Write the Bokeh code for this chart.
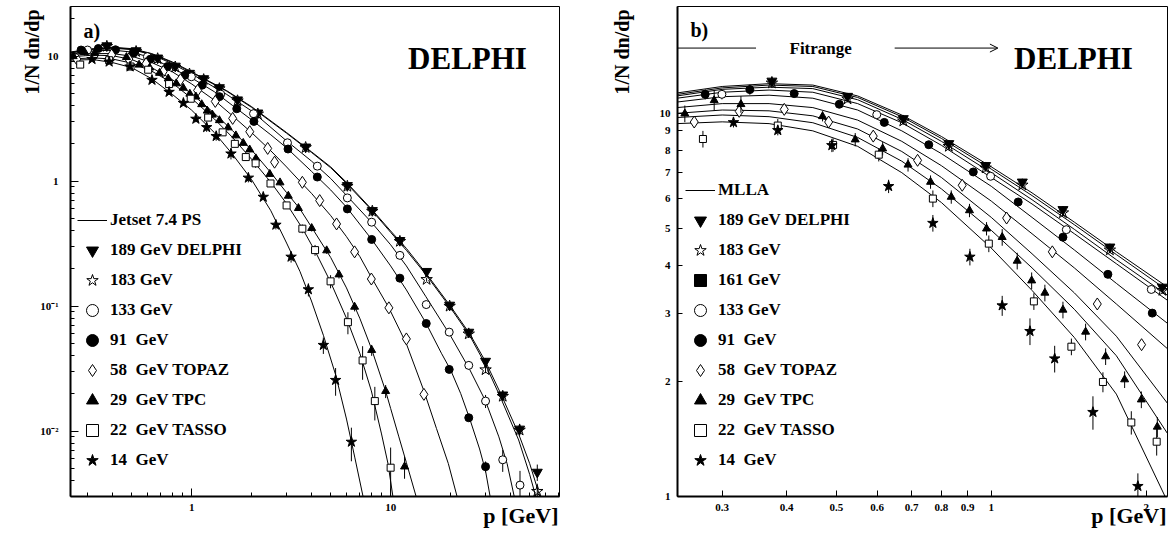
import numpy as np
from bokeh.plotting import figure
from bokeh.layouts import row
from bokeh.models import (FixedTicker, CustomJSTickFormatter, Label, Legend, LegendItem,
                          Arrow, OpenHead, Range1d, Title)
from bokeh.embed import file_html
from bokeh.resources import INLINE

FONT = "Liberation Serif"

# ---------------- measured data: p [GeV], 1/N dn/dp, relative error ----------------
p189 = [0.3747, 0.5256, 0.6745, 0.827, 0.975, 1.149, 1.378, 1.70, 2.15, 3.74, 6.06, 8.09, 11.13, 15.17, 19.8, 24.7, 30.0, 36.6, 44.5, 54.6]
y189 = [12.14, 11.08, 9.69, 8.34, 7.31, 6.62, 5.61, 4.48, 3.52, 1.88, 0.924, 0.583, 0.336, 0.19, 0.102, 0.062, 0.0363, 0.0195, 0.0104, 0.0047]
e189 = [0.03, 0.02, 0.02, 0.02, 0.02, 0.02, 0.02, 0.02, 0.02, 0.02, 0.02, 0.02, 0.03, 0.03, 0.04, 0.05, 0.06, 0.08, 0.1, 0.15]

p183 = [0.3747, 0.5256, 0.6745, 0.827, 0.975, 1.149, 1.378, 1.70, 2.15, 3.74, 6.06, 8.09, 11.13, 15.17, 19.8, 24.7, 30.0, 36.6, 44.5, 54.6]
y183 = [12.0, 10.9, 9.55, 8.2, 7.2, 6.5, 5.5, 4.4, 3.45, 1.86, 0.91, 0.575, 0.33, 0.1636, 0.1, 0.06, 0.031, 0.019, 0.0102, 0.0033]
e183 = [0.03, 0.02, 0.02, 0.02, 0.02, 0.02, 0.02, 0.02, 0.02, 0.02, 0.02, 0.02, 0.03, 0.03, 0.04, 0.05, 0.06, 0.08, 0.1, 0.15]

p133 = [0.2996, 0.599, 0.997, 1.399, 2.046, 3.03, 4.28, 6.06, 8.03, 11.13, 15.1, 19.7, 24.7, 30.0, 36.6, 44.7]
y133 = [11.21, 9.92, 6.85, 4.97, 3.47, 2.03, 1.32, 0.735, 0.47, 0.255, 0.103, 0.062, 0.0336, 0.0174, 0.0059, 0.0037]
e133 = [0.03, 0.02, 0.02, 0.02, 0.02, 0.02, 0.02, 0.03, 0.03, 0.04, 0.05, 0.06, 0.08, 0.12, 0.2, 0.3]

p91 = [0.278, 0.3395, 0.414, 0.5066, 0.6195, 0.756, 0.9226, 1.128, 1.378, 1.685, 2.055, 3.05, 4.28, 6.06, 8.03, 11.13, 15.1, 19.7, 24.7, 30.0]
y91 = [11.21, 11.53, 11.26, 10.56, 9.47, 8.28, 7.03, 5.87, 4.75, 3.80, 3.01, 1.81, 1.08, 0.6, 0.342, 0.1675, 0.0727, 0.0312, 0.0128, 0.0052]
e91 = [0.03, 0.03, 0.02, 0.02, 0.02, 0.02, 0.02, 0.02, 0.02, 0.02, 0.02, 0.02, 0.02, 0.02, 0.03, 0.03, 0.04, 0.05, 0.06, 0.1]

p58 = [0.2647, 0.3237, 0.396, 0.483, 0.5897, 0.7191, 0.878, 1.071, 1.314, 1.607, 1.959, 2.41, 2.61, 3.6, 4.4, 5.35, 6.59, 8.0, 9.8, 12.0, 14.7]
y58 = [9.49, 10.12, 10.24, 9.49, 8.72, 7.54, 6.49, 5.33, 4.35, 3.18, 2.49, 1.83, 1.42, 0.98, 0.70, 0.455, 0.272, 0.165, 0.097, 0.0547, 0.0197]
e58 = [0.03, 0.03, 0.03, 0.03, 0.03, 0.03, 0.03, 0.03, 0.03, 0.03, 0.03, 0.03, 0.03, 0.03, 0.03, 0.04, 0.04, 0.05, 0.05, 0.06, 0.08]

p29 = [0.2538, 0.2894, 0.3262, 0.47, 0.544, 0.615, 0.689, 0.762, 0.836, 0.907,
       0.979, 1.05, 1.123, 1.198, 1.271, 1.378, 1.525, 1.668, 1.816, 1.957,
       2.102, 2.47, 2.78, 3.06, 3.44, 4.01, 4.77, 5.5, 6.59, 8.03, 9.44, 11.75]
y29 = [9.98, 10.81, 10.56, 9.82, 8.54, 8.09, 7.34, 6.62, 6.05, 5.58,
       5.0, 4.75, 4.12, 3.66, 3.40, 3.07, 2.69, 2.32, 2.02, 1.79,
       1.52, 1.14, 0.976, 0.763, 0.608, 0.421, 0.279, 0.179, 0.0987, 0.0445, 0.0209, 0.0052]
e29 = [0.05, 0.06, 0.05, 0.03, 0.04, 0.04, 0.04, 0.04, 0.04, 0.04,
       0.04, 0.05, 0.05, 0.05, 0.05, 0.05, 0.05, 0.05, 0.05, 0.05,
       0.06, 0.05, 0.05, 0.05, 0.05, 0.06, 0.06, 0.07, 0.08, 0.1, 0.12, 0.2]

p22 = [0.2752, 0.3847, 0.4927, 0.6044, 0.77, 0.989, 1.21, 1.431, 1.648, 1.871,
       2.096, 2.49, 3.0, 3.6, 4.17, 4.99, 6.1, 7.23, 8.33, 10.0]
y22 = [8.57, 9.29, 8.27, 7.80, 5.99, 4.57, 3.23, 2.46, 1.99, 1.56,
       1.39, 0.959, 0.64, 0.417, 0.281, 0.158, 0.0745, 0.0368, 0.0174, 0.0051]
e22 = [0.05, 0.04, 0.04, 0.04, 0.05, 0.05, 0.05, 0.05, 0.06, 0.07,
       0.08, 0.06, 0.06, 0.08, 0.1, 0.12, 0.2, 0.3, 0.3, 0.45]

p14 = [0.3155, 0.3847, 0.49, 0.6316, 0.77, 0.9087, 1.05, 1.189, 1.328, 1.576,
       1.927, 2.29, 2.65, 3.16, 3.86, 4.59, 5.29, 6.35]
y14 = [9.47, 9.03, 8.25, 6.45, 5.17, 4.22, 3.15, 2.70, 2.29, 1.66,
       1.064, 0.748, 0.447, 0.248, 0.136, 0.0488, 0.0256, 0.0082]
e14 = [0.03, 0.03, 0.04, 0.04, 0.05, 0.05, 0.06, 0.08, 0.08, 0.1,
       0.08, 0.06, 0.08, 0.1, 0.12, 0.15, 0.25, 0.3]

# 161 GeV: legend entry only, no points visible in the figure
p161 = [float("nan")]
y161 = [float("nan")]
e161 = [0.0]

# ---------------- Jetset 7.4 PS curves (panel a) ----------------
js_p189 = [0.245, 0.32, 0.4, 0.5, 0.63, 0.8, 1.0, 1.5, 2.0, 3.0, 4.0, 5.0, 6.0, 8.0, 10, 12, 15, 20, 25, 30, 36, 44, 50, 57]
js_y189 = [10.8, 11.5, 11.8, 11.5, 10.5, 9.0, 7.5, 5.3, 3.95, 2.45, 1.72, 1.3, 0.98, 0.6, 0.4, 0.29, 0.185, 0.1, 0.06, 0.036, 0.0195, 0.0095, 0.0055, 0.0028]
js_p183 = [0.245, 0.32, 0.4, 0.5, 0.63, 0.8, 1.0, 1.5, 2.0, 3.0, 4.0, 5.0, 6.0, 8.0, 10, 12, 15, 20, 25, 30, 36, 44, 50, 55]
js_y183 = [10.7, 11.4, 11.7, 11.4, 10.4, 8.9, 7.4, 5.25, 3.9, 2.42, 1.7, 1.28, 0.96, 0.59, 0.39, 0.28, 0.18, 0.097, 0.058, 0.034, 0.018, 0.0085, 0.0045, 0.0026]
js_p133 = [0.245, 0.32, 0.4, 0.5, 0.63, 0.8, 1.0, 1.5, 2.0, 3.0, 4.0, 5.0, 6.0, 8.0, 10, 12, 15, 20, 25, 30, 35, 38.5, 42]
js_y133 = [10.6, 11.3, 11.6, 11.3, 10.3, 8.7, 7.2, 4.95, 3.65, 2.1, 1.45, 1.05, 0.77, 0.47, 0.31, 0.21, 0.12, 0.058, 0.031, 0.0174, 0.009, 0.0055, 0.0029]
js_p91 = [0.245, 0.32, 0.4, 0.5, 0.63, 0.8, 1.0, 1.3, 1.6, 2.0, 2.5, 3.0, 4.0, 5.0, 6.0, 8.0, 10, 12, 15, 18, 20, 22.5, 25, 28, 30, 32]
js_y91 = [10.4, 11.0, 11.2, 10.8, 9.7, 8.0, 6.7, 5.2, 4.05, 3.1, 2.35, 1.85, 1.2, 0.85, 0.62, 0.345, 0.21, 0.135, 0.074, 0.042, 0.031, 0.02, 0.0125, 0.0072, 0.0048, 0.0027]
js_p58 = [0.245, 0.32, 0.4, 0.5, 0.63, 0.8, 1.0, 1.3, 1.6, 2.0, 2.5, 3.0, 3.5, 4.0, 5.0, 6.0, 7.0, 8.0, 9.8, 12.0, 14.7, 17.0, 19.5, 21.7]
js_y58 = [10.1, 10.5, 10.5, 10.0, 8.9, 7.5, 6.0, 4.45, 3.35, 2.45, 1.75, 1.3, 1.0, 0.8, 0.53, 0.36, 0.25, 0.17, 0.097, 0.05, 0.021, 0.0105, 0.0055, 0.0029]
js_p29 = [0.245, 0.32, 0.4, 0.5, 0.63, 0.8, 1.0, 1.3, 1.6, 2.0, 2.5, 3.0, 3.5, 4.0, 5.0, 6.0, 7.0, 8.0, 9.44, 10.0, 11.0, 12.0, 13.6]
js_y29 = [9.9, 10.2, 10.1, 9.4, 8.1, 6.5, 5.0, 3.5, 2.55, 1.78, 1.17, 0.81, 0.6, 0.43, 0.245, 0.14, 0.08, 0.046, 0.0209, 0.0152, 0.009, 0.0056, 0.0028]
js_p22 = [0.245, 0.32, 0.4, 0.5, 0.63, 0.8, 1.0, 1.3, 1.6, 2.0, 2.5, 3.0, 3.6, 4.2, 5.0, 6.0, 7.0, 8.0, 9.0, 9.7, 10.3]
js_y22 = [9.5, 9.7, 9.5, 8.8, 7.6, 6.1, 4.6, 3.15, 2.25, 1.5, 0.98, 0.66, 0.42, 0.27, 0.155, 0.08, 0.042, 0.021, 0.0095, 0.0055, 0.0029]
js_p14 = [0.245, 0.32, 0.4, 0.5, 0.63, 0.8, 1.0, 1.3, 1.6, 2.0, 2.5, 3.0, 3.5, 4.0, 4.6, 5.3, 6.0, 6.6, 7.3]
js_y14 = [9.3, 9.4, 8.9, 8.1, 6.6, 4.95, 3.7, 2.45, 1.65, 1.03, 0.58, 0.32, 0.19, 0.11, 0.058, 0.028, 0.0125, 0.0062, 0.0029]

# ---------------- MLLA curves (panel b) ----------------
mlla_p = [0.245, 0.3, 0.37, 0.45, 0.55, 0.67, 0.8, 1.0, 1.2, 1.45, 1.75, 2.2]
mlla189 = [11.3, 11.75, 11.95, 11.85, 11.1, 9.9, 8.7, 7.25, 6.2, 5.2, 4.35, 3.52]
mlla183 = [11.2, 11.65, 11.85, 11.75, 11.0, 9.8, 8.6, 7.15, 6.1, 5.12, 4.28, 3.45]
mlla161 = [11.1, 11.55, 11.7, 11.6, 10.85, 9.65, 8.45, 7.0, 5.95, 4.98, 4.15, 3.35]
mlla133 = [10.95, 11.35, 11.5, 11.35, 10.6, 9.45, 8.25, 6.8, 5.8, 4.85, 4.05, 3.25]
mlla91 = [10.7, 11.05, 11.15, 10.95, 10.2, 9.0, 7.85, 6.45, 5.35, 4.4, 3.6, 2.83]
mlla58 = [10.35, 10.6, 10.6, 10.35, 9.6, 8.45, 7.3, 5.9, 4.85, 3.95, 3.18, 2.43]
mlla29 = [10.0, 10.2, 10.15, 9.85, 9.1, 7.95, 6.8, 5.35, 4.3, 3.4, 2.62, 1.75]
mlla22 = [9.75, 9.9, 9.8, 9.45, 8.65, 7.5, 6.35, 4.95, 3.95, 3.08, 2.33, 1.46]
mlla14 = [9.4, 9.5, 9.4, 9.0, 8.2, 7.0, 5.85, 4.45, 3.45, 2.6, 1.85, 0.97]

# ---------------- axes: ticks and labels ----------------
a_xticks = [1, 10]
a_xlabels = ["1", "10"]
a_xminor = [0.3, 0.4, 0.5, 0.6, 0.7, 0.8, 0.9, 2, 3, 4, 5, 6, 7, 8, 9, 20, 30, 40, 50, 60, 70]
a_yticks = [0.01, 0.1, 1, 10]
a_ylabels = ["10\u207b\u00b2", "10\u207b\u00b9", "1", "10"]
a_yminor = [0.004, 0.005, 0.006, 0.007, 0.008, 0.009, 0.02, 0.03, 0.04, 0.05, 0.06, 0.07, 0.08, 0.09,
            0.2, 0.3, 0.4, 0.5, 0.6, 0.7, 0.8, 0.9, 2, 3, 4, 5, 6, 7, 8, 9, 20]
b_xticks = [0.3, 0.4, 0.5, 0.6, 0.7, 0.8, 0.9, 1, 2]
b_xlabels = ["0.3", "0.4", "0.5", "0.6", "0.7", "0.8", "0.9", "1", "2"]
b_yticks = [1, 2, 3, 4, 5, 6, 7, 8, 9, 10]
b_ylabels = ["1", "2", "3", "4", "5", "6", "7", "8", "9", "10"]
x_title = "p [GeV]"
y_title = "1/N dn/dp"

# fit-range indicator (panel b)
fit_line_x = [0.245, 0.349]
fit_arrow_x = [0.649, 1.03]
fit_y = 14.8

series = [
    ("189", p189, y189, e189, "inverted_triangle", "black", 1.0, 10),
    ("183", p183, y183, e183, "star", "white", 0.0, 12),
    ("161", p161, y161, e161, "square", "black", 1.0, 8),
    ("133", p133, y133, e133, "circle", "white", 1.0, 8),
    ("91", p91, y91, e91, "circle", "black", 1.0, 8),
    ("58", p58, y58, e58, "diamond", "white", 1.0, 12),
    ("29", p29, y29, e29, "triangle", "black", 1.0, 8),
    ("22", p22, y22, e22, "square", "white", 1.0, 7),
    ("14", p14, y14, e14, "star", "black", 1.0, 11),
]

def style_axis(ax, ticks, labels, minor, standoff=7):
    ax.ticker = FixedTicker(ticks=ticks, minor_ticks=minor)
    ax.formatter = CustomJSTickFormatter(args=dict(vals=ticks, labs=labels),
        code="const i = vals.indexOf(tick); return i >= 0 ? labs[i] : '';")
    ax.axis_line_width = 2
    ax.axis_line_color = "black"
    ax.major_tick_in = 8
    ax.major_tick_out = 0
    ax.minor_tick_in = 4
    ax.minor_tick_out = 0
    ax.major_tick_line_color = "black"
    ax.minor_tick_line_color = "black"
    ax.major_label_text_font = FONT
    ax.major_label_text_font_style = "bold"
    ax.major_label_text_font_size = "11px"
    ax.major_label_text_color = "black"
    ax.major_label_standoff = standoff

def add_axis_titles(p, y_standoff):
    p.add_layout(Title(text=x_title, align="right", vertical_align="bottom", offset=1, standoff=-26,
                       text_font=FONT, text_font_style="bold", text_font_size="22px",
                       text_color="black"), "below")
    p.add_layout(Title(text=y_title, align="right", vertical_align="bottom", offset=3, standoff=y_standoff,
                       text_font=FONT, text_font_style="bold", text_font_size="20px",
                       text_color="black"), "left")

def make_fig(width, bl, br, xr, yr):
    p = figure(width=width, height=533, x_axis_type="log", y_axis_type="log",
               x_range=Range1d(*xr), y_range=Range1d(*yr),
               output_backend="svg", toolbar_location=None,
               min_border_left=bl, min_border_right=br, min_border_top=6, min_border_bottom=37)
    p.xgrid.visible = False
    p.ygrid.visible = False
    p.outline_line_color = "black"
    p.outline_line_width = 1
    p.background_fill_color = "white"
    p.border_fill_color = "white"
    return p

def add_text(p, x, y, text, size, align="left", baseline="alphabetic"):
    p.add_layout(Label(x=x, y=y, x_units="screen", y_units="screen", text=text,
                       text_font=FONT, text_font_style="bold", text_font_size=size,
                       text_align=align, text_baseline=baseline, text_color="black"))

def draw_points(p):
    rends = {}
    for name, px, py, pe, mk, fc, fa, sz in series:
        x = np.array(px, dtype=float)
        y = np.array(py, dtype=float)
        e = np.array(pe, dtype=float)
        p.segment(x0=x, y0=y * (1 - e), x1=x, y1=y * (1 + e), line_color="black", line_width=1)
        rends[name] = p.scatter(x=x, y=y, marker=mk, size=sz, fill_color=fc, fill_alpha=fa,
                                line_color="black", line_width=1)
    return rends

def make_legend(p, items, loc):
    leg = Legend(items=[LegendItem(label=l, renderers=[r]) for l, r in items], location=loc,
                 background_fill_alpha=0, border_line_alpha=0, padding=0, margin=0,
                 spacing=0, glyph_width=30, glyph_height=30, label_height=30, label_standoff=3,
                 label_text_font=FONT, label_text_font_style="bold", label_text_font_size="17px",
                 label_text_color="black")
    p.add_layout(leg)

# ---------------- panel a ----------------
pa = make_fig(584, 70, 25, (0.246, 70.6), (0.003, 25))
style_axis(pa.xaxis[0], a_xticks, a_xlabels, a_xminor)
style_axis(pa.yaxis[0], a_yticks, a_ylabels, a_yminor, standoff=12)
add_axis_titles(pa, -10)

jetset = [(js_p189, js_y189), (js_p183, js_y183), (js_p133, js_y133), (js_p91, js_y91),
          (js_p58, js_y58), (js_p29, js_y29), (js_p22, js_y22), (js_p14, js_y14)]
line_a = None
for cx, cy in jetset:
    r = pa.line(cx, cy, line_color="black", line_width=1)
    if line_a is None:
        line_a = r
ra = draw_points(pa)
make_legend(pa, [("Jetset 7.4 PS", line_a), ("189 GeV DELPHI", ra["189"]), ("183 GeV", ra["183"]),
                 ("133 GeV", ra["133"]), ("91\u00a0 GeV", ra["91"]), ("58\u00a0 GeV TOPAZ", ra["58"]),
                 ("29\u00a0 GeV TPC", ra["29"]), ("22\u00a0 GeV TASSO", ra["22"]), ("14\u00a0 GeV", ra["14"])],
            (7, 21))
add_text(pa, 13, 466, "a)", "20px")
add_text(pa, 397, 438, "DELPHI", "31px", align="center")

# ---------------- panel b ----------------
pb = make_fig(589, 93, 6, (0.2456, 2.2), (1, 19))
style_axis(pb.xaxis[0], b_xticks, b_xlabels, [])
style_axis(pb.yaxis[0], b_yticks, b_ylabels, [])
pb.xaxis[0].major_tick_in = 6
pb.yaxis[0].major_tick_in = 5
add_axis_titles(pb, 48)

line_b = None
for cy in [mlla189, mlla183, mlla161, mlla133, mlla91, mlla58, mlla29, mlla22, mlla14]:
    r = pb.line(mlla_p, cy, line_color="black", line_width=1)
    if line_b is None:
        line_b = r
rb = draw_points(pb)
make_legend(pb, [("MLLA", line_b), ("189 GeV DELPHI", rb["189"]), ("183 GeV", rb["183"]),
                 ("161 GeV", rb["161"]), ("133 GeV", rb["133"]), ("91\u00a0 GeV", rb["91"]),
                 ("58\u00a0 GeV TOPAZ", rb["58"]), ("29\u00a0 GeV TPC", rb["29"]),
                 ("22\u00a0 GeV TASSO", rb["22"]), ("14\u00a0 GeV", rb["14"])],
            (8, 21))
pb.line(fit_line_x, [fit_y, fit_y], line_color="black", line_width=1)
pb.add_layout(Arrow(end=OpenHead(size=8, line_width=1, line_color="black"),
                    x_start=fit_arrow_x[0], y_start=fit_y, x_end=fit_arrow_x[1], y_end=fit_y,
                    line_color="black", line_width=1))
add_text(pb, 13, 467, "b)", "20px")
add_text(pb, 112, 448, "Fitrange", "17px")
add_text(pb, 396, 438, "DELPHI", "31px", align="center")

layout = row(pa, pb)
open("out.html", "w").write(file_html(layout, INLINE))
